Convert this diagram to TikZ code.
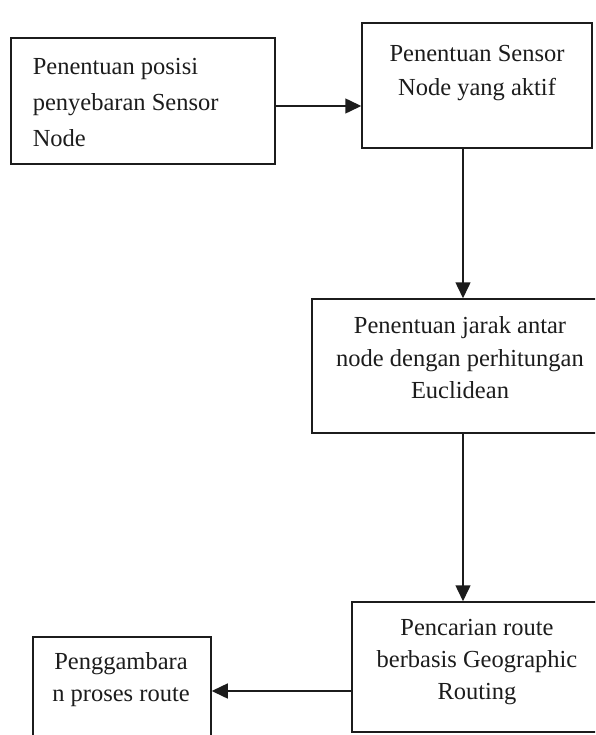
\documentclass[tikz,border=0pt]{standalone}
\usepackage{fontspec}
\setmainfont{Liberation Serif}
\usetikzlibrary{arrows.meta}
\definecolor{ink}{HTML}{1C1C1C}
\begin{document}
\begin{tikzpicture}[x=1pt, y=-1pt, line width=1.5pt, draw=ink, text=ink, >={Triangle[length=16pt,width=15pt]}]
\path[use as bounding box, clip] (0,0) rectangle (595,735);
\node[draw, minimum width=264pt, minimum height=126pt] (box1) at (143,101){};
\node[draw, minimum width=230pt, minimum height=125pt] (box2) at (477,85.5){};
\node[draw, minimum width=302pt, minimum height=134pt] (box3) at (463,366){};
\node[draw, minimum width=250pt, minimum height=130pt] (box4) at (477,667){};
\node[draw, minimum width=178pt, minimum height=134pt] (box5) at (122,704){};
\node[anchor=north west, inner sep=0, align=left, font=\fontsize{24.5}{36}\selectfont] (txt1) at (32,58){Penentuan posisi\\penyebaran Sensor\\Node};
\node[anchor=north, inner sep=0, align=center, font=\fontsize{24.5}{34}\selectfont] (txt2) at (477,45){Penentuan Sensor\\Node yang aktif};
\node[anchor=north, inner sep=0, align=center, font=\fontsize{24.5}{32.5}\selectfont] (txt3) at (460,316){Penentuan jarak antar\\node dengan perhitungan\\Euclidean};
\node[anchor=north, inner sep=0, align=center, font=\fontsize{24.5}{32}\selectfont] (txt4) at (477,619){Pencarian route\\berbasis Geographic\\Routing};
\node[anchor=north, inner sep=0, align=center, font=\fontsize{24.5}{32}\selectfont] (txt5) at (121,652){Penggambara\\n proses route};
\draw[->]([yshift=-5pt]box1.east) -- ([yshift=-5pt]box1.east -| box2.west);
\draw[->](box3.north |- box2.south) -- (box3.north);
\draw[->](box3.south) -- (box3.south |- box4.north);
\draw[->]([yshift=-24pt]box4.west) -- ([yshift=-24pt]box4.west -| box5.east);
\end{tikzpicture}
\end{document}
